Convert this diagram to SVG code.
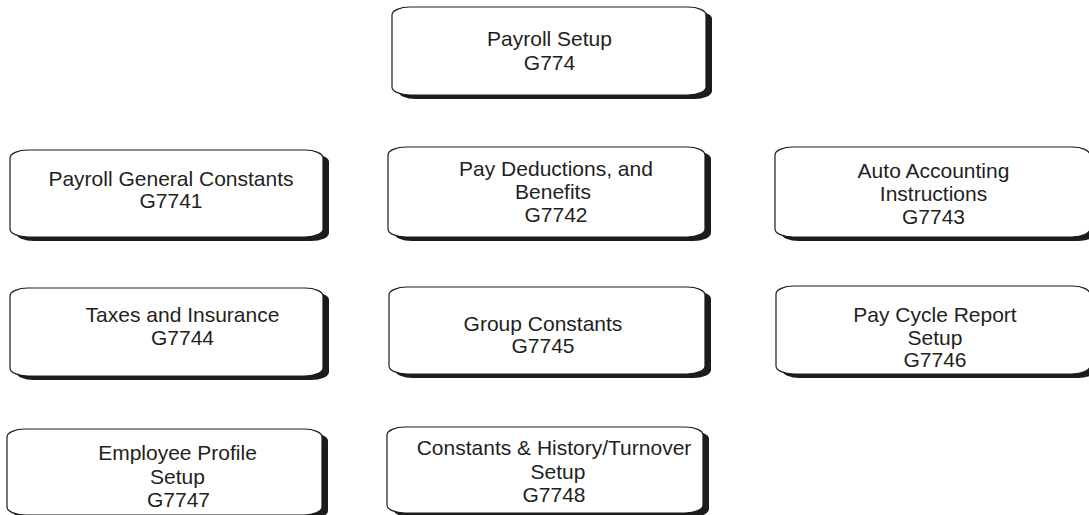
<svg xmlns="http://www.w3.org/2000/svg" width="1089" height="515" viewBox="0 0 1089 515">
  <style>
    .shadow { fill: #1c1c1c; }
    .box { fill: #ffffff; stroke: #1c1c1c; stroke-width: 1.2; }
    .label { font-family: "Liberation Sans", Arial, sans-serif; font-size: 21px; fill: #231f20; text-anchor: middle; }
  </style>
  <rect width="1089" height="515" fill="#ffffff"/>

  <!-- Menu nodes: white rounded card with a drop shadow to the lower right -->
  <g id="node-g774">
    <rect class="shadow" x="398" y="11" width="314" height="88" rx="18" ry="8"/>
    <rect class="box" x="392" y="7" width="314" height="88" rx="18" ry="8"/>
    <text class="label" x="549.5" y="46">Payroll Setup</text>
    <text class="label" x="549.5" y="70">G774</text>
  </g>

  <g id="node-g7741">
    <rect class="shadow" x="16" y="154" width="313" height="87" rx="18" ry="8"/>
    <rect class="box" x="10" y="150" width="313" height="87" rx="18" ry="8"/>
    <text class="label" x="171" y="186">Payroll General Constants</text>
    <text class="label" x="171" y="208">G7741</text>
  </g>

  <g id="node-g7742">
    <rect class="shadow" x="394" y="151" width="317" height="90" rx="18" ry="8"/>
    <rect class="box" x="388" y="147" width="317" height="90" rx="18" ry="8"/>
    <text class="label" x="556" y="176">Pay Deductions, and</text>
    <text class="label" x="553" y="199">Benefits</text>
    <text class="label" x="556" y="222">G7742</text>
  </g>

  <g id="node-g7743">
    <rect class="shadow" x="781" y="151" width="315" height="90" rx="18" ry="8"/>
    <rect class="box" x="775" y="147" width="315" height="90" rx="18" ry="8"/>
    <text class="label" x="933.5" y="178">Auto Accounting</text>
    <text class="label" x="933.5" y="201">Instructions</text>
    <text class="label" x="933.5" y="224">G7743</text>
  </g>

  <g id="node-g7744">
    <rect class="shadow" x="16" y="292" width="313" height="88" rx="18" ry="8"/>
    <rect class="box" x="10" y="288" width="313" height="88" rx="18" ry="8"/>
    <text class="label" x="182.5" y="322">Taxes and Insurance</text>
    <text class="label" x="182.5" y="345">G7744</text>
  </g>

  <g id="node-g7745">
    <rect class="shadow" x="395" y="291" width="316" height="87" rx="18" ry="8"/>
    <rect class="box" x="389" y="287" width="316" height="87" rx="18" ry="8"/>
    <text class="label" x="543" y="331">Group Constants</text>
    <text class="label" x="543" y="353">G7745</text>
  </g>

  <g id="node-g7746">
    <rect class="shadow" x="782" y="290" width="314" height="88" rx="18" ry="8"/>
    <rect class="box" x="776" y="286" width="314" height="88" rx="18" ry="8"/>
    <text class="label" x="935" y="322">Pay Cycle Report</text>
    <text class="label" x="935" y="345">Setup</text>
    <text class="label" x="935" y="367">G7746</text>
  </g>

  <g id="node-g7747">
    <rect class="shadow" x="13" y="433" width="315" height="86" rx="18" ry="8"/>
    <rect class="box" x="7" y="429" width="315" height="86" rx="18" ry="8"/>
    <text class="label" x="177.5" y="460">Employee Profile</text>
    <text class="label" x="177.5" y="484">Setup</text>
    <text class="label" x="178.5" y="507">G7747</text>
  </g>

  <g id="node-g7748">
    <rect class="shadow" x="393" y="431" width="316" height="86" rx="18" ry="8"/>
    <rect class="box" x="387" y="427" width="316" height="86" rx="18" ry="8"/>
    <text class="label" x="554" y="455">Constants &amp; History/Turnover</text>
    <text class="label" x="558" y="479">Setup</text>
    <text class="label" x="554" y="502">G7748</text>
  </g>

  <!-- No connectors are drawn between these menu cards -->
  <g id="connectors"/>
</svg>
